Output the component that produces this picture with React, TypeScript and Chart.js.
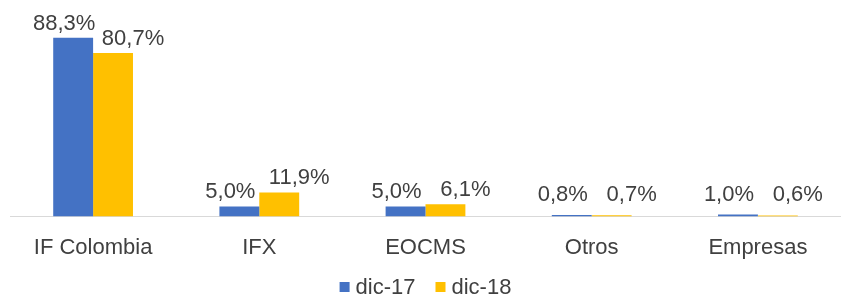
import React, { useEffect, useRef } from "react";
import { Chart, registerables } from "chart.js";

Chart.register(...registerables);

const categories = ["IF Colombia", "IFX", "EOCMS", "Otros", "Empresas"];
const seriesNames = ["dic-17", "dic-18"];
const dic17 = [88.3, 5.0, 5.0, 0.8, 1.0];
const dic18 = [80.7, 11.9, 6.1, 0.7, 0.6];
const colors = ["#4472C4", "#FFC000"];

const FONT = "'Liberation Sans', Arial, sans-serif";
const TEXT = "#404040";

const fmt = (v: number) => v.toFixed(1).replace(".", ",") + "%";

const labelPlugin = {
  id: "valueLabels",
  afterDatasetsDraw(chart: any) {
    const ctx = chart.ctx;
    const base = chart.chartArea.bottom;
    ctx.save();
    ctx.font = `22px ${FONT}`;
    ctx.fillStyle = TEXT;
    ctx.textAlign = "center";
    ctx.textBaseline = "alphabetic";
    chart.data.datasets.forEach((ds: any, di: number) => {
      const meta = chart.getDatasetMeta(di);
      meta.data.forEach((el: any, i: number) => {
        const shift = di === 0 ? -9 : 20;
        const y = Math.min(el.y - 8, base - 16);
        ctx.fillText(fmt(ds.data[i]), el.x + shift, y);
      });
    });
    ctx.restore();
  },
};

const legendPlugin = {
  id: "customLegend",
  afterDraw(chart: any) {
    const ctx = chart.ctx;
    const ds = chart.data.datasets;
    const box = 10;
    const gap = 6;
    const spacing = 20;
    ctx.save();
    ctx.font = `22px ${FONT}`;
    ctx.textBaseline = "middle";
    ctx.textAlign = "left";
    const widths = ds.map((d: any) => box + gap + ctx.measureText(d.label).width);
    const total = widths.reduce((a: number, b: number) => a + b, 0) + spacing * (ds.length - 1);
    const cx = (chart.chartArea.left + chart.chartArea.right) / 2;
    let x = cx - total / 2;
    const y = chart.height - 11;
    ds.forEach((d: any, i: number) => {
      ctx.fillStyle = d.backgroundColor;
      ctx.fillRect(x, y - box / 2, box, box);
      ctx.fillStyle = TEXT;
      ctx.fillText(d.label, x + box + gap, y + 1);
      x += widths[i] + spacing;
    });
    ctx.restore();
  },
};

export default function App() {
  const ref = useRef<HTMLCanvasElement>(null);
  useEffect(() => {
    document.body.style.margin = "0";
    const chart = new Chart(ref.current!, {
      type: "bar",
      data: {
        labels: categories,
        datasets: [
          { label: seriesNames[0], data: dic17, backgroundColor: colors[0] },
          { label: seriesNames[1], data: dic18, backgroundColor: colors[1] },
        ],
      },
      options: {
        animation: false,
        responsive: false,
        maintainAspectRatio: false,
        layout: { padding: { top: 14, left: 10, right: 0, bottom: 19 } },
        datasets: {
          bar: { categoryPercentage: 0.48, barPercentage: 1 },
        } as any,
        scales: {
          x: {
            offset: true,
            grid: { display: false, drawTicks: false },
            border: { display: true, color: "#D9D9D9", width: 1 },
            ticks: { font: { size: 22, family: FONT }, color: TEXT, padding: 18, maxRotation: 0 },
          },
          y: { display: false, min: 0, max: 100 },
        },
        plugins: {
          legend: { display: false },
          tooltip: { enabled: false },
        },
      },
      plugins: [labelPlugin, legendPlugin],
    });
    return () => chart.destroy();
  }, []);
  return <canvas ref={ref} width={841} height={298} style={{ display: "block" }} />;
}
